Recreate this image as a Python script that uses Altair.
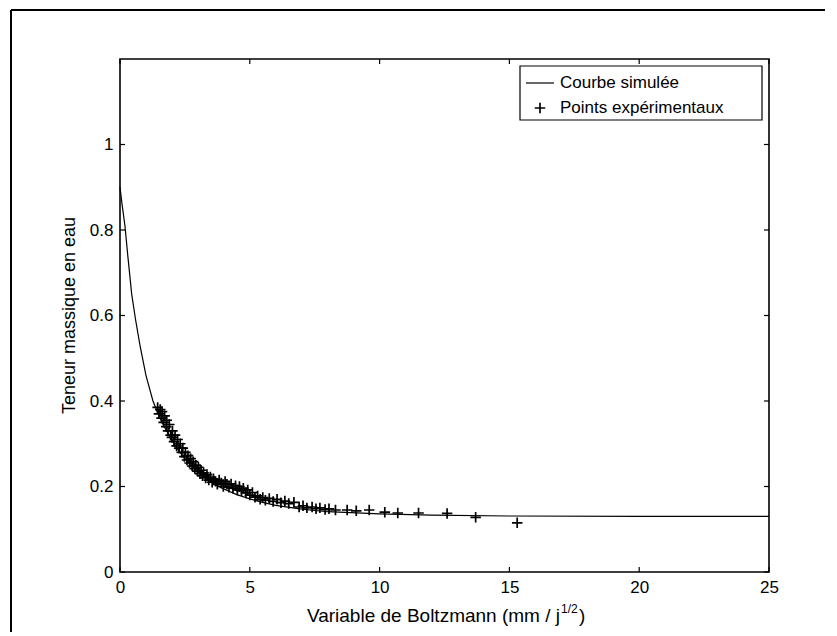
import altair as alt
import pandas as pd

# ---- data ----
curve_x = [0.0, 0.08, 0.19, 0.3, 0.45, 0.6, 0.77, 1.0, 1.27, 1.5, 1.75, 2.0, 2.25, 2.5, 2.75, 3.0, 3.25, 3.5,
           3.75, 4.0, 4.5, 5.0, 5.5, 6.0, 7.0, 8.0, 10.0, 12.0, 15.0, 20.0, 25.0]
curve_y = [0.9, 0.86, 0.81, 0.74, 0.65, 0.59, 0.53, 0.46, 0.40, 0.365, 0.335, 0.308, 0.285, 0.265, 0.248,
           0.234, 0.222, 0.211, 0.202, 0.194, 0.181, 0.171, 0.163, 0.156, 0.147, 0.141, 0.136, 0.133, 0.131,
           0.13, 0.13]

pts_x = [1.45, 1.5, 1.55, 1.6, 1.62, 1.68, 1.72, 1.78, 1.8, 1.85, 1.9, 1.95, 2.0, 2.02, 2.08, 2.12, 2.18,
         2.22, 2.28, 2.32, 2.38, 2.42, 2.48, 2.52, 2.58, 2.62, 2.68, 2.72, 2.78, 2.82, 2.88, 2.92, 2.98, 3.02,
         3.08, 3.12, 3.18, 3.22, 3.3, 3.35, 3.42, 3.48, 3.55, 3.6, 3.68, 3.75, 3.82, 3.9, 3.98, 4.05, 4.12,
         4.2, 4.28, 4.35, 4.45, 4.52, 4.6, 4.68, 4.75, 4.85, 4.92, 5.0, 5.1, 5.2, 5.3, 5.4, 5.5, 5.6, 5.75,
         5.9, 6.05, 6.2, 6.35, 6.5, 6.7, 6.9, 7.05, 7.2, 7.4, 7.55, 7.7, 7.9, 8.05, 8.3, 8.75, 9.1, 9.6, 10.2,
         10.7, 11.5, 12.6, 13.7, 15.3]
pts_y = [0.385, 0.37, 0.38, 0.36, 0.375, 0.35, 0.365, 0.34, 0.355, 0.33, 0.345, 0.32, 0.315, 0.33, 0.305,
         0.32, 0.295, 0.31, 0.29, 0.3, 0.28, 0.29, 0.27, 0.28, 0.262, 0.272, 0.255, 0.265, 0.248, 0.258,
         0.242, 0.25, 0.236, 0.245, 0.23, 0.238, 0.225, 0.232, 0.22, 0.228, 0.215, 0.222, 0.21, 0.218, 0.212,
         0.205, 0.215, 0.208, 0.2, 0.212, 0.205, 0.198, 0.206, 0.196, 0.202, 0.192, 0.2, 0.19, 0.196, 0.185,
         0.192, 0.18, 0.186, 0.175, 0.178, 0.17, 0.174, 0.168, 0.172, 0.165, 0.17, 0.162, 0.166, 0.16, 0.163,
         0.152, 0.155, 0.15, 0.152, 0.148, 0.15, 0.146, 0.148, 0.145, 0.145, 0.143, 0.145, 0.14, 0.138,
         0.138, 0.137, 0.128, 0.115]

x_ticks = [0, 5, 10, 15, 20, 25]
y_ticks = [0, 0.2, 0.4, 0.6, 0.8, 1.0]

legend_labels = ["Courbe simulée", "Points expérimentaux"]
x_title = "Variable de Boltzmann (mm / j"
x_title_sup = "1/2"
y_title = "Teneur massique en eau"

# ---- layout ----
W, H = 649, 513
FONT = "Liberation Sans"
PLUS = "M-1,0L1,0M0,-1L0,1"

xs = alt.Scale(domain=[0, 25], nice=False, zero=False)
ys = alt.Scale(domain=[0, 1.2], nice=False, zero=False)

x_axis = alt.Axis(values=x_ticks, ticks=False, domain=False, grid=False, title=None, labelFlush=False,
                  labelFontSize=17, labelFont=FONT, labelColor="black", labelPadding=7, format="~g")
y_axis = alt.Axis(values=y_ticks, ticks=False, domain=False, grid=False, title=None, labelFlush=False,
                  labelFontSize=17, labelFont=FONT, labelColor="black", labelPadding=7, format="~g")

curve_df = pd.DataFrame({"x": curve_x, "y": curve_y})
pts_df = pd.DataFrame({"x": pts_x, "y": pts_y})
xt_df = pd.DataFrame({"x": x_ticks})
yt_df = pd.DataFrame({"y": y_ticks})
one = pd.DataFrame({"a": [0]})

curve = alt.Chart(curve_df).mark_line(color="black", strokeWidth=1.2).encode(
    x=alt.X("x:Q", scale=xs, axis=x_axis),
    y=alt.Y("y:Q", scale=ys, axis=y_axis),
)

points = alt.Chart(pts_df).mark_point(shape=PLUS, size=110, filled=False, color="black", strokeWidth=1.7,
                                      opacity=1).encode(
    x=alt.X("x:Q", scale=xs, axis=x_axis),
    y=alt.Y("y:Q", scale=ys, axis=y_axis),
)

tick_len = 5
xt_bot = alt.Chart(xt_df).mark_rule(color="black", strokeWidth=1.2).encode(
    x=alt.X("x:Q", scale=xs, axis=x_axis), y=alt.value(H), y2=alt.value(H - tick_len))
xt_top = alt.Chart(xt_df).mark_rule(color="black", strokeWidth=1.2).encode(
    x=alt.X("x:Q", scale=xs, axis=x_axis), y=alt.value(0), y2=alt.value(tick_len))
yt_left = alt.Chart(yt_df).mark_rule(color="black", strokeWidth=1.2).encode(
    y=alt.Y("y:Q", scale=ys, axis=y_axis), x=alt.value(0), x2=alt.value(tick_len))
yt_right = alt.Chart(yt_df).mark_rule(color="black", strokeWidth=1.2).encode(
    y=alt.Y("y:Q", scale=ys, axis=y_axis), x=alt.value(W), x2=alt.value(W - tick_len))

# outer figure frame (top and left edges visible in the scan)
frame_top = alt.Chart(one).mark_rule(color="black", strokeWidth=2).encode(
    x=alt.value(-109), x2=alt.value(W + 70), y=alt.value(-49))
frame_left = alt.Chart(one).mark_rule(color="black", strokeWidth=2).encode(
    x=alt.value(-109), y=alt.value(-49), y2=alt.value(H + 70))

# legend
leg_box = alt.Chart(one).mark_rect(fill="white", stroke="black", strokeWidth=1.2).encode(
    x=alt.value(400), x2=alt.value(642), y=alt.value(7), y2=alt.value(61))
leg_line = alt.Chart(one).mark_rule(color="black", strokeWidth=1.2).encode(
    x=alt.value(406), x2=alt.value(434), y=alt.value(24))
leg_pt = alt.Chart(one).mark_point(shape=PLUS, size=110, filled=False, color="black", strokeWidth=1.7,
                                   opacity=1).encode(x=alt.value(420), y=alt.value(49))
leg_t1 = alt.Chart(one).mark_text(align="left", baseline="middle", font=FONT, fontSize=17, color="black",
                                  text=legend_labels[0]).encode(x=alt.value(440), y=alt.value(24))
leg_t2 = alt.Chart(one).mark_text(align="left", baseline="middle", font=FONT, fontSize=17, color="black",
                                  text=legend_labels[1]).encode(x=alt.value(440), y=alt.value(49))

# axis titles
xt_main = alt.Chart(one).mark_text(align="right", baseline="middle", font=FONT, fontSize=19, color="black",
                                   text=x_title).encode(x=alt.value(440), y=alt.value(H + 44))
xt_sup = alt.Chart(one).mark_text(align="left", baseline="middle", font=FONT, fontSize=12, color="black",
                                  text=x_title_sup).encode(x=alt.value(441), y=alt.value(H + 37))
xt_end = alt.Chart(one).mark_text(align="left", baseline="middle", font=FONT, fontSize=19, color="black",
                                  text=")").encode(x=alt.value(459), y=alt.value(H + 44))
yt_title = alt.Chart(one).mark_text(align="center", baseline="middle", font=FONT, fontSize=18, color="black",
                                    angle=270, text=y_title).encode(x=alt.value(-50), y=alt.value(H / 2))

chart = alt.layer(
    frame_top, frame_left, curve, points, xt_bot, xt_top, yt_left, yt_right,
    leg_box, leg_line, leg_pt, leg_t1, leg_t2, xt_main, xt_sup, xt_end, yt_title,
).properties(
    width=W, height=H,
    autosize=alt.AutoSizeParams(type="none"),
    padding={"left": 112, "top": 51, "right": 56, "bottom": 60},
    background="white",
).configure_view(stroke="black", strokeWidth=1.6)

chart.save("out.html", embed_options={"renderer": "svg", "actions": False})
